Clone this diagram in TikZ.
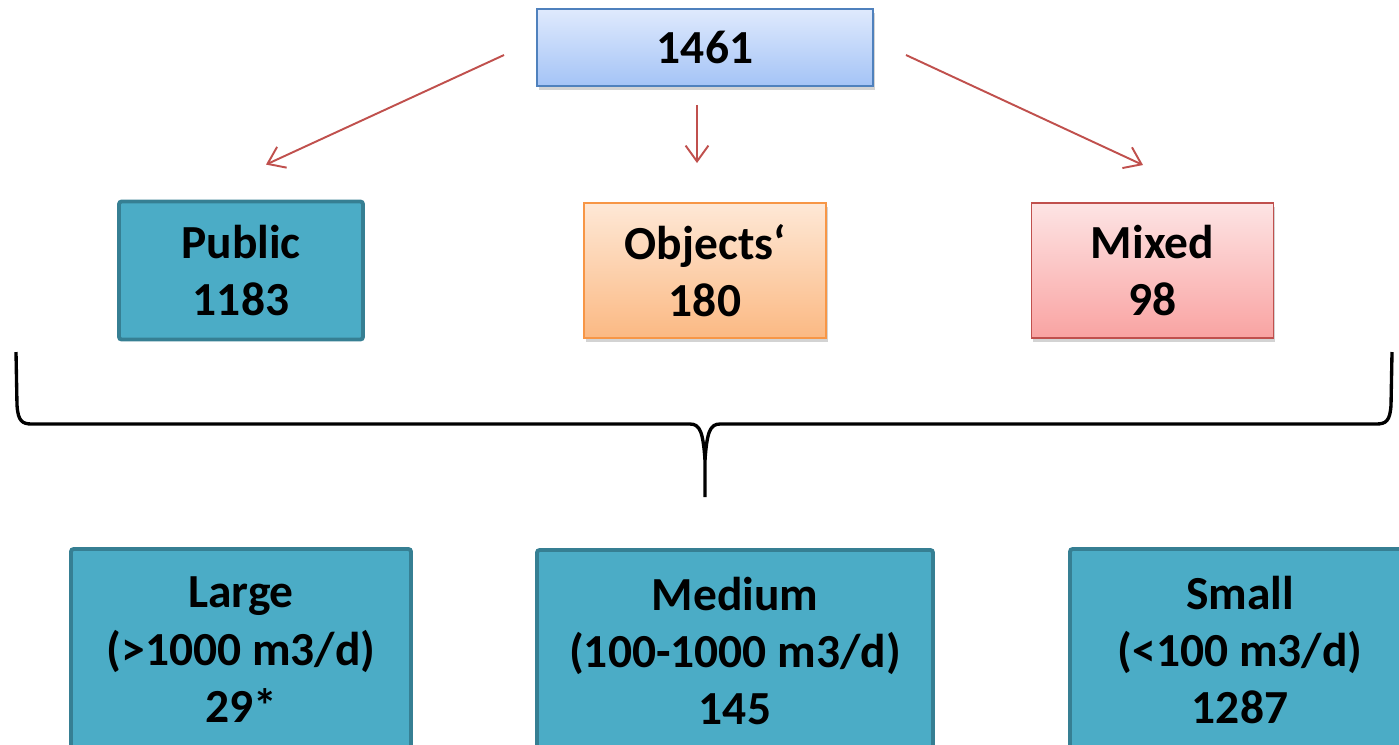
\documentclass[tikz,border=0pt]{standalone}
\usepackage{fontspec}
\setmainfont{Carlito}
\usetikzlibrary{shadows, arrows.meta}
\definecolor{rootline}{HTML}{4F81BD}
\definecolor{roottop}{HTML}{DFEAFD}
\definecolor{rootbottom}{HTML}{A4C3F6}
\definecolor{tealfill}{HTML}{4BACC6}
\definecolor{tealline}{HTML}{367F93}
\definecolor{objline}{HTML}{F79646}
\definecolor{objtop}{HTML}{FEE8D6}
\definecolor{objbottom}{HTML}{FBB983}
\definecolor{mixline}{HTML}{C0504D}
\definecolor{mixtop}{HTML}{FDE4E4}
\definecolor{mixbottom}{HTML}{F9A3A2}
\definecolor{arrowred}{HTML}{C0504D}
\newcommand{\boxfont}{\bfseries\fontsize{27}{32.7}\selectfont}
\tikzstyle{rootbox} = [rectangle, minimum width=6.72cm, minimum height=1.54cm, text centered, draw=rootline, line width=1.1pt, top color=roottop, bottom color=rootbottom, drop shadow={shadow xshift=0.03cm, shadow yshift=-0.07cm, opacity=0.35}, font=\boxfont]
\tikzstyle{pubbox} = [rectangle, rounded corners=1.5pt, minimum width=4.88cm, minimum height=2.76cm, align=center, draw=tealline, line width=2.2pt, fill=tealfill, font=\boxfont]
\tikzstyle{objbox} = [rectangle, minimum width=4.84cm, minimum height=2.7cm, align=center, draw=objline, line width=1.1pt, top color=objtop, bottom color=objbottom, drop shadow={shadow xshift=0.03cm, shadow yshift=-0.07cm, opacity=0.35}, font=\boxfont]
\tikzstyle{mixbox} = [rectangle, minimum width=4.84cm, minimum height=2.7cm, align=center, draw=mixline, line width=1.1pt, top color=mixtop, bottom color=mixbottom, drop shadow={shadow xshift=0.03cm, shadow yshift=-0.07cm, opacity=0.35}, font=\boxfont]
\tikzstyle{sizebox} = [rectangle, rounded corners=1.5pt, minimum width=6.8cm, minimum height=4.04cm, align=center, draw=tealline, line width=2.2pt, fill=tealfill, font=\boxfont]
\tikzstyle{arrow} = [line width=1.1pt, draw=arrowred, -{Straight Barb[length=9pt,width=13pt]}]
\tikzstyle{brace} = [line width=1.9pt, black, line join=round]

\begin{document}
\begin{tikzpicture}[node distance=4.46cm]
	\useasboundingbox (0,0) rectangle (27.98,-14.88);
	\clip (0,0) rectangle (27.98,-14.88);
	\node (total) [rootbox] at (14.1,-0.95) {1461};
	\node (objects) [objbox, below of=total] {Objects\symbol{96}\\180};
	\node (public) [pubbox, left of=objects, xshift=-4.82cm] {Public\\1183};
	\node (mixed) [mixbox, right of=objects, xshift=4.49cm] {Mixed\\98};
	\node (large) [sizebox, below of=public, yshift=-3.13cm] {Large\\(>1000 m3/d)\\29*};
	\node (medium) [sizebox, minimum width=7.92cm, below of=objects, xshift=0.6cm, yshift=-3.15cm] {Medium\\(100-1000 m3/d)\\145};
	\node (small) [sizebox, below of=mixed, xshift=1.75cm, yshift=-3.13cm] {Small\\(<100 m3/d)\\1287};
	\draw [arrow] ([xshift=-0.64cm,yshift=-0.15cm]total.west) -- ([xshift=0.5cm,yshift=0.7cm]public.north);
	\draw [arrow] ([xshift=-0.16cm,yshift=-0.36cm]total.south) -- ([xshift=-0.16cm,yshift=0.78cm]objects.north);
	\draw [arrow] ([xshift=0.64cm,yshift=-0.15cm]total.east) -- ([xshift=-0.19cm,yshift=0.74cm]mixed.north);
	% brace under the three groups
	\draw [brace] (0.32,-7.04) -- (0.34,-8.1) .. controls (0.36,-8.42) and (0.44,-8.48) .. (0.64,-8.48) -- (13.8,-8.48) .. controls (14.0,-8.48) and (14.06,-8.64) .. (14.1,-9.2) -- (14.1,-9.94);
	\draw [brace] (27.84,-7.04) -- (27.82,-8.1) .. controls (27.8,-8.42) and (27.72,-8.48) .. (27.52,-8.48) -- (14.4,-8.48) .. controls (14.2,-8.48) and (14.14,-8.64) .. (14.1,-9.2);
\end{tikzpicture}
\end{document}
